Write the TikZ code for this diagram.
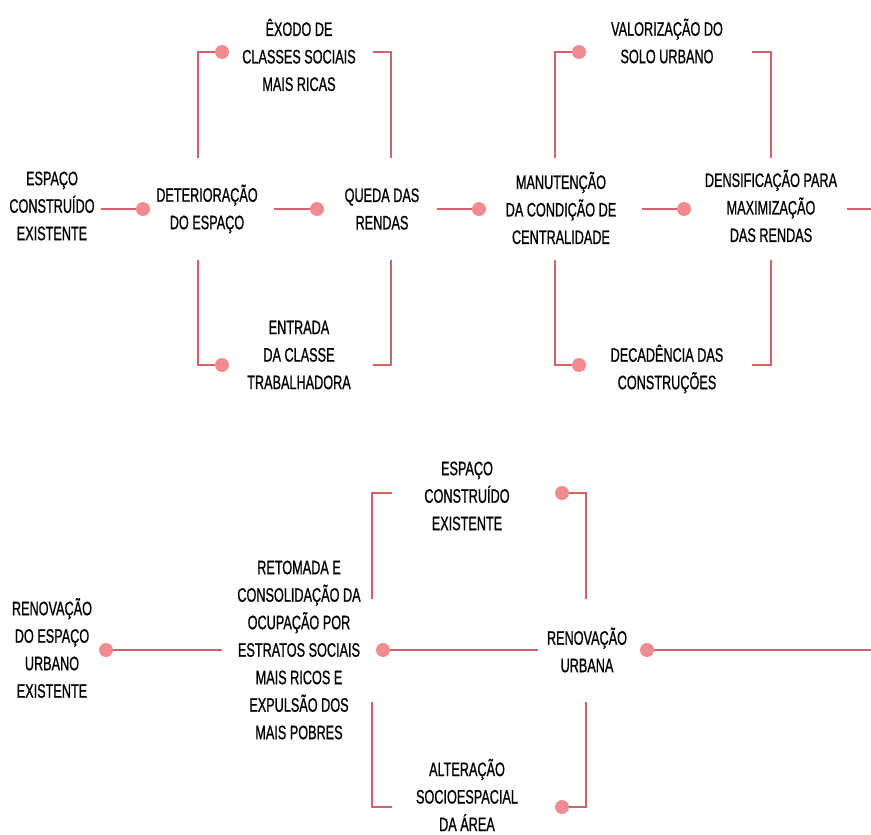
\documentclass[tikz,border=0pt]{standalone}
\usepackage{fontspec}
\setmainfont[FakeStretch=0.65, FakeBold=0.8]{Liberation Sans}
\usetikzlibrary{positioning, calc}
\definecolor{linkred}{RGB}{214,96,110}
\definecolor{dotpink}{RGB}{240,140,145}

\begin{document}
\begin{tikzpicture}[
        x=1pt, y=-1pt,
        every node/.style={font=\fontsize{19.5}{27.5}\selectfont},
        lbl/.style={align=center, inner sep=0pt},
        dot/.style={circle, fill=dotpink, inner sep=0pt, minimum size=14pt},
        link/.style={draw=linkred, line width=1.8pt},
    ]
    \useasboundingbox (0,0) rectangle (871,835);

    % ── Upper chain ──
    \node[lbl] (esp) at (52,206) {ESPAÇO\\CONSTRUÍDO\\EXISTENTE};
    \node[lbl] (det) at (207,209) {DETERIORAÇÃO\\DO ESPAÇO};
    \node[lbl] (que) at (382,209) {QUEDA DAS\\RENDAS};
    \node[lbl] (man) at (561,208) {MANUTENÇÃO\\DA CONDIÇÃO DE\\CENTRALIDADE};
    \node[lbl] (den) at (771,206) {DENSIFICAÇÃO PARA\\MAXIMIZAÇÃO\\DAS RENDAS};

    \node[lbl] (exo) at (299,55) {ÊXODO DE\\CLASSES SOCIAIS\\MAIS RICAS};
    \node[lbl] (ent) at (299,355) {ENTRADA\\DA CLASSE\\TRABALHADORA};
    \node[lbl] (val) at (667,41) {VALORIZAÇÃO DO\\SOLO URBANO};
    \node[lbl] (dec) at (667,369) {DECADÊNCIA DAS\\CONSTRUÇÕES};

    \node[dot] (a1) at (143,209) {};
    \node[dot] (a2) at (317,209) {};
    \node[dot] (a3) at (479,209) {};
    \node[dot] (a4) at (684,209) {};
    \node[dot] (b1) at (222,52) {};
    \node[dot] (b2) at (222,365) {};
    \node[dot] (b3) at (579,52) {};
    \node[dot] (b4) at (579,365) {};

    \coordinate (e1) at (101,209);
    \coordinate (e2) at (274,209);
    \coordinate (e3) at (437,209);
    \coordinate (e4) at (642,209);
    \coordinate (e5) at (847,209);
    \coordinate (out1) at (871,209);
    \coordinate (detup) at (198,158);
    \coordinate (detdn) at (198,260);
    \coordinate (queup) at (391,158);
    \coordinate (quedn) at (391,260);
    \coordinate (exoe) at (373,52);
    \coordinate (ente) at (373,365);
    \coordinate (manup) at (555,158);
    \coordinate (mandn) at (555,260);
    \coordinate (denup) at (771,158);
    \coordinate (dendn) at (771,260);
    \coordinate (vale) at (752,52);
    \coordinate (dece) at (752,365);

    \draw[link] (e1) -- (a1);
    \draw[link] (e2) -- (a2);
    \draw[link] (e3) -- (a3);
    \draw[link] (e4) -- (a4);
    \draw[link] (e5) -- (out1);

    \draw[link] (detup) |- (b1);
    \draw[link] (exoe) -| (queup);
    \draw[link] (detdn) |- (b2);
    \draw[link] (ente) -| (quedn);
    \draw[link] (manup) |- (b3);
    \draw[link] (vale) -| (denup);
    \draw[link] (mandn) |- (b4);
    \draw[link] (dece) -| (dendn);

    % ── Lower chain ──
    \node[lbl] (ren) at (52,648) {RENOVAÇÃO\\DO ESPAÇO\\URBANO\\EXISTENTE};
    \node[lbl] (ret) at (299,650) {RETOMADA E\\CONSOLIDAÇÃO DA\\OCUPAÇÃO POR\\ESTRATOS SOCIAIS\\MAIS RICOS E\\EXPULSÃO DOS\\MAIS POBRES};
    \node[lbl] (urb) at (587,650) {RENOVAÇÃO\\URBANA};
    \node[lbl] (esq) at (467,496) {ESPAÇO\\CONSTRUÍDO\\EXISTENTE};
    \node[lbl] (alt) at (467,795) {ALTERAÇÃO\\SOCIOESPACIAL\\DA ÁREA};

    \node[dot] (c1) at (106,650) {};
    \node[dot] (c2) at (383,650) {};
    \node[dot] (c3) at (647,650) {};
    \node[dot] (c4) at (562,493) {};
    \node[dot] (c5) at (562,807) {};

    \coordinate (f1) at (222,650);
    \coordinate (f2) at (538,650);
    \coordinate (out2) at (871,650);
    \coordinate (retup) at (372,599);
    \coordinate (retdn) at (372,702);
    \coordinate (esqw) at (392,493);
    \coordinate (altw) at (392,807);
    \coordinate (urbup) at (586,599);
    \coordinate (urbdn) at (586,702);

    \draw[link] (c1) -- (f1);
    \draw[link] (c2) -- (f2);
    \draw[link] (c3) -- (out2);
    \draw[link] (retup) |- (esqw);
    \draw[link] (retdn) |- (altw);
    \draw[link] (c4) -| (urbup);
    \draw[link] (c5) -| (urbdn);

\end{tikzpicture}
\end{document}
